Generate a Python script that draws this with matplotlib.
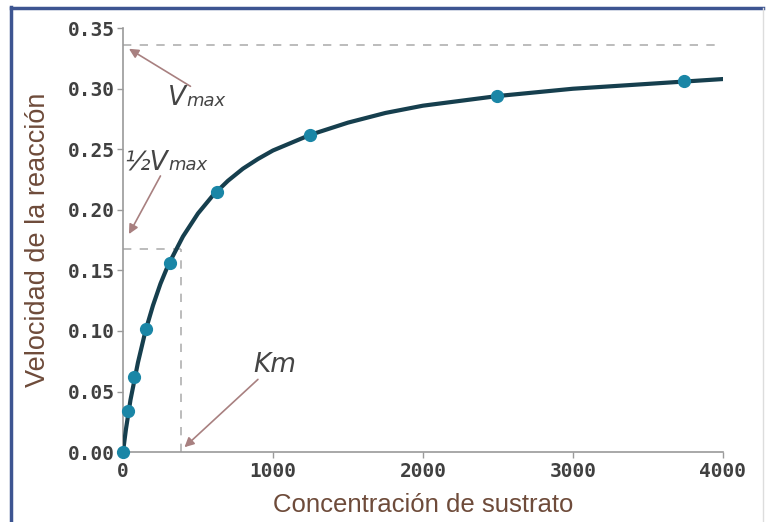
import matplotlib.pyplot as plt
from matplotlib.lines import Line2D

# puntos medidos
sustrato = [0, 33, 73, 153, 313, 627, 1247, 2493, 3740]
velocidad = [0.0, 0.034, 0.062, 0.102, 0.156, 0.215, 0.262, 0.294, 0.306]

# curva ajustada
curva_x = [0, 20, 50, 100, 150, 200, 250, 300, 400, 500, 600, 700, 800, 900,
           1000, 1250, 1500, 1750, 2000, 2250, 2500, 2750, 3000, 3250, 3500,
           3750, 4000]
curva_y = [0.0, 0.019, 0.043, 0.074, 0.100, 0.121, 0.139, 0.154, 0.178,
           0.197, 0.212, 0.224, 0.234, 0.242, 0.249, 0.262, 0.272, 0.280,
           0.286, 0.290, 0.294, 0.297, 0.300, 0.302, 0.304, 0.306, 0.308]

vmax = 0.336
km = 387
xticks = [0, 1000, 2000, 3000, 4000]
yticks = [0.00, 0.05, 0.10, 0.15, 0.20, 0.25, 0.30, 0.35]

label_font = ['Liberation Sans', 'DejaVu Sans']
tick_color = '#404040'
brown = '#6e4b3a'
gris = '#9a9a9a'
texto = '#454545'

fig = plt.figure(figsize=(7.71, 5.22), dpi=100)
ax = fig.add_axes([0.1595, 0.134, 0.778, 0.812])

# lineas guia
guia = dict(ls=(0, (5, 5)), color='#b0b0b0', lw=1.2)
ax.plot([0, 4000], [vmax, vmax], **guia)
ax.plot([0, km], [vmax / 2, vmax / 2], **guia)
ax.plot([km, km], [0, vmax / 2], **guia)

ax.plot(curva_x, curva_y, color='#163f4e', lw=3, solid_capstyle='round', zorder=3)
ax.plot(sustrato, velocidad, 'o', color='#1a86a6', ms=8.5, zorder=4, clip_on=False)

ax.set_xlim(0, 4000)
ax.set_ylim(0, 0.35)
ax.set_xticks(xticks)
ax.set_yticks(yticks)
ax.set_xticklabels([str(t) for t in xticks])
ax.set_yticklabels(['%.2f' % t for t in yticks])
ax.tick_params(colors=gris, labelcolor=tick_color, length=4, width=1,
               labelsize=14)
for lab in ax.get_xticklabels() + ax.get_yticklabels():
    lab.set_family('DejaVu Sans Mono')
    lab.set_fontweight('bold')
ax.tick_params(axis='y', pad=2)

for s in ['top', 'right']:
    ax.spines[s].set_visible(False)
for s in ['left', 'bottom']:
    ax.spines[s].set_color(gris)
    ax.spines[s].set_linewidth(1.2)

ax.set_xlabel('Concentración de sustrato', family=label_font, fontsize=18.5,
              color=brown, labelpad=8)
ax.set_ylabel('Velocidad de la reacción', family=label_font, fontsize=19.5,
              color=brown, labelpad=12)

flecha = dict(arrowstyle='-|>', color='#a88080', lw=1.2, mutation_scale=14,
              shrinkA=0, shrinkB=0)

# Vmax
ax.annotate('', xy=(40, 0.333), xytext=(450, 0.302), arrowprops=flecha)
v1 = ax.text(300, 0.292, 'V', fontsize=19, style='italic', color=texto,
             va='center', ha='left')
ax.annotate('max', xy=(1.0, 0.21), xycoords=v1, fontsize=13, style='italic',
            color=texto, va='baseline', ha='left')

# 1/2 Vmax
ax.annotate('', xy=(40, 0.180), xytext=(250, 0.228), arrowprops=flecha)
v2 = ax.text(10, 0.2395, '½V', fontsize=19, style='italic', color=texto,
             va='center', ha='left')
ax.annotate('max', xy=(1.0, 0.21), xycoords=v2, fontsize=13, style='italic',
            color=texto, va='baseline', ha='left')

# Km
ax.annotate('', xy=(410, 0.004), xytext=(900, 0.060), arrowprops=flecha)
ax.text(870, 0.0715, 'Km', fontsize=19, style='italic', color=texto,
        va='center', ha='left')

# marco
fig.add_artist(Line2D([11 / 771, 11 / 771], [0, 1 - 7 / 522], color='#3d5591',
                      lw=2.5, transform=fig.transFigure))
fig.add_artist(Line2D([11 / 771, 763 / 771], [1 - 8 / 522, 1 - 8 / 522],
                      color='#3d5591', lw=2.5, transform=fig.transFigure))
fig.add_artist(Line2D([763 / 771, 763 / 771], [0, 1 - 8 / 522], color='#dddddd',
                      lw=1, transform=fig.transFigure))

fig.savefig('out.png', dpi=100)
